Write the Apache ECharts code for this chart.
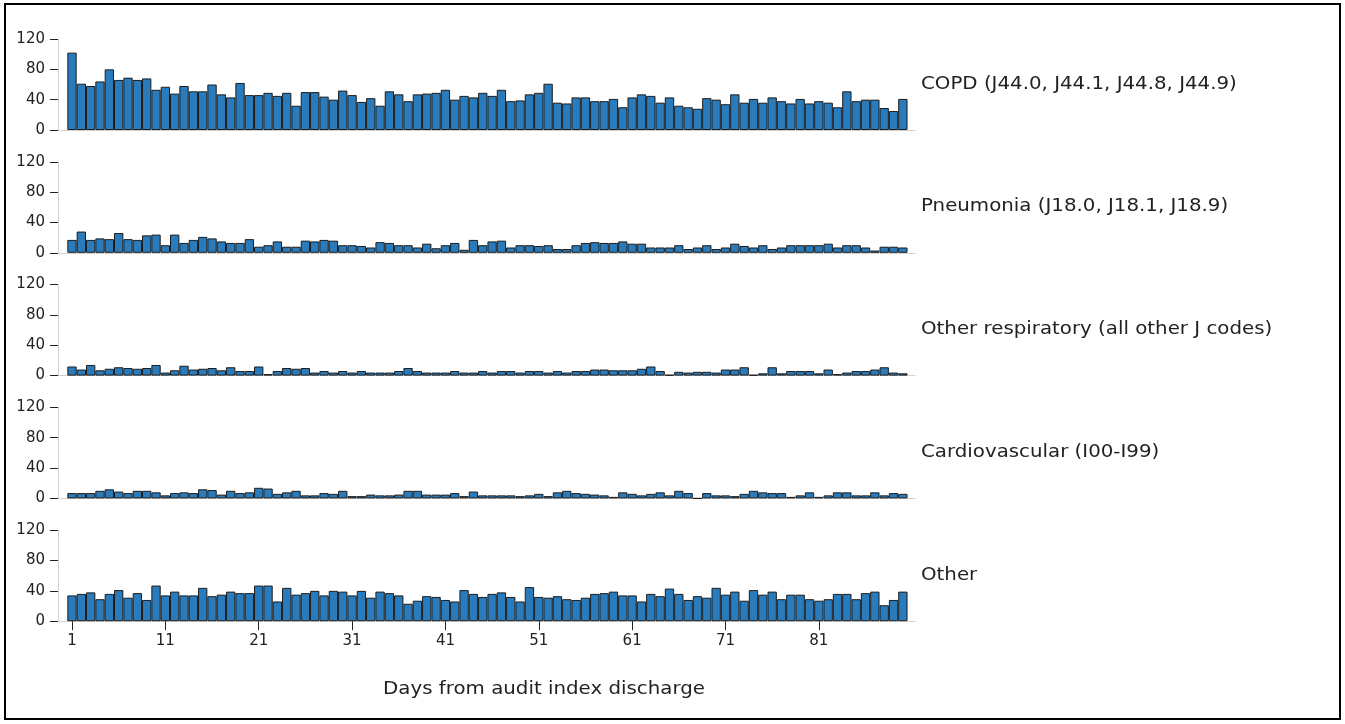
<!DOCTYPE html>
<html>
<head>
<meta charset="utf-8">
<script src="https://cdn.jsdelivr.net/npm/echarts@6/dist/echarts.min.js"></script>
<style>
  html, body { margin: 0; padding: 0; background: #fff; }
  #chart { position: absolute; left: 0; top: 0; width: 1345px; height: 724px; }
  #frame { position: absolute; left: 4px; top: 3px; width: 1333px; height: 713px; border: 2px solid #000; pointer-events: none; }
</style>
</head>
<body>
<div id="chart"></div>
<div id="frame"></div>
<script>
// Days since discharge (1..90) and the tick days labelled on the bottom axis
const days = Array.from({ length: 90 }, (_, i) => i + 1);
const tickDays = [1, 11, 21, 31, 41, 51, 61, 71, 81];
const yTicks = [0, 40, 80, 120];

// Readmissions per day, by cause
const copd = [
  102, 61, 58, 64, 80, 66, 69, 66, 68, 53,
  57, 48, 58, 51, 51, 60, 47, 43, 62, 46,
  46, 49, 45, 49, 32, 50, 50, 44, 40, 52,
  46, 37, 42, 32, 51, 47, 38, 47, 48, 49,
  53, 40, 45, 43, 49, 45, 53, 38, 39, 47,
  49, 61, 36, 35, 43, 43, 38, 38, 41, 30,
  43, 47, 45, 36, 43, 32, 30, 28, 42, 40,
  34, 47, 36, 41, 36, 43, 38, 35, 41, 35,
  38, 36, 30, 51, 38, 40, 40, 29, 25, 41
];
const pneumonia = [
  17, 28, 17, 19, 18, 26, 18, 17, 23, 24,
  10, 24, 13, 17, 21, 19, 15, 13, 13, 18,
  8, 10, 15, 8, 8, 16, 15, 17, 16, 10,
  10, 9, 7, 14, 13, 10, 10, 7, 12, 6,
  10, 13, 4, 17, 10, 15, 16, 7, 10, 10,
  9, 10, 5, 5, 10, 13, 14, 13, 13, 15,
  12, 12, 7, 7, 7, 10, 5, 7, 10, 5,
  7, 12, 9, 7, 10, 5, 7, 10, 10, 10,
  10, 12, 7, 10, 10, 7, 3, 8, 8, 7
];
const otherRespiratory = [
  12, 8, 14, 7, 9, 11, 10, 9, 10, 14,
  4, 7, 13, 8, 9, 10, 7, 11, 6, 6,
  12, 2, 6, 10, 9, 10, 4, 6, 4, 6,
  4, 6, 4, 4, 4, 6, 10, 6, 4, 4,
  4, 6, 4, 4, 6, 4, 6, 6, 4, 6,
  6, 4, 6, 4, 6, 6, 8, 8, 7, 7,
  7, 9, 12, 6, 1, 5, 4, 5, 5, 4,
  8, 8, 11, 1, 3, 11, 3, 6, 6, 6,
  3, 8, 2, 4, 6, 6, 8, 11, 4, 3
];
const cardiovascular = [
  7, 7, 7, 10, 12, 9, 7, 10, 10, 8,
  4, 7, 8, 7, 12, 11, 5, 10, 7, 8,
  14, 13, 6, 8, 10, 4, 4, 7, 6, 10,
  3, 3, 5, 4, 4, 5, 10, 10, 5, 5,
  5, 7, 3, 9, 4, 4, 4, 4, 3, 4,
  6, 3, 8, 10, 7, 6, 5, 4, 2, 8,
  6, 4, 6, 8, 4, 10, 7, 0, 7, 4,
  4, 3, 6, 10, 8, 7, 7, 2, 4, 8,
  2, 4, 8, 8, 4, 4, 8, 4, 7, 6
];
const other = [
  34, 36, 38, 29, 36, 41, 31, 37, 28, 47,
  34, 39, 34, 34, 44, 33, 35, 39, 37, 37,
  47, 47, 26, 44, 35, 37, 40, 34, 40, 39,
  34, 40, 31, 39, 37, 34, 23, 27, 33, 32,
  28, 26, 41, 36, 32, 36, 38, 32, 26, 45,
  32, 31, 33, 29, 28, 31, 36, 37, 39, 34,
  34, 26, 36, 33, 43, 36, 28, 33, 31, 44,
  35, 39, 27, 41, 35, 39, 29, 35, 35, 29,
  27, 29, 36, 36, 29, 37, 39, 21, 28, 39
];

const panelNames = [
  'COPD (J44.0, J44.1, J44.8, J44.9)',
  'Pneumonia (J18.0, J18.1, J18.9)',
  'Other respiratory (all other J codes)',
  'Cardiovascular (I00-I99)',
  'Other'
];
const panelValues = [copd, pneumonia, otherRespiratory, cardiovascular, other];
const xAxisTitle = 'Days from audit index discharge';

// Panel layout
const FONT = '"DejaVu Sans", Verdana, sans-serif';
const GRID_LEFT = 58;
const GRID_WIDTH = 857;
const TOP0 = 39;
const STEP = 122.8;
const H = 91;
const TEXT_STRETCH = 1.1;   // the captions are set slightly wide
const TICK_FONT = 15;
const last = panelValues.length - 1;

const chart = echarts.init(document.getElementById('chart'), null, { renderer: 'canvas' });

const option = {
  animation: false,
  backgroundColor: '#fff',
  grid: panelValues.map((_, i) => ({
    left: GRID_LEFT, width: GRID_WIDTH, top: TOP0 + i * STEP, height: H
  })),
  xAxis: panelValues.map((_, i) => ({
    gridIndex: i,
    type: 'value',
    min: -0.5,
    max: 91.3,
    splitLine: { show: false },
    axisLine: { show: true, onZero: false, lineStyle: { color: '#d0d0d0', width: 1 } },
    axisTick: i === last
      ? { show: true, customValues: tickDays, length: 9, lineStyle: { color: '#222', width: 1 } }
      : { show: false },
    axisLabel: i === last
      ? { show: true, customValues: tickDays, margin: 12, fontSize: TICK_FONT, color: '#222', fontFamily: FONT }
      : { show: false }
  })),
  yAxis: panelValues.map((_, i) => ({
    gridIndex: i,
    type: 'value',
    min: yTicks[0],
    max: yTicks[yTicks.length - 1],
    interval: yTicks[1] - yTicks[0],
    splitLine: { show: false },
    axisLine: { show: true, onZero: false, lineStyle: { color: '#d0d0d0', width: 1 } },
    axisTick: { show: true, length: 8, lineStyle: { color: '#222', width: 1 } },
    axisLabel: { margin: 13, fontSize: TICK_FONT, color: '#222', fontFamily: FONT }
  })),
  series: panelValues.map((vals, i) => ({
    type: 'bar',
    name: panelNames[i],
    xAxisIndex: i,
    yAxisIndex: i,
    barWidth: '100%',
    silent: true,
    data: days.map((d, k) => [d, vals[k]]),
    itemStyle: { color: '#2a7bbb', borderColor: '#1c1c1c', borderWidth: 1 }
  })),
  graphic: panelNames.map((name, i) => ({
    type: 'text',
    x: GRID_LEFT + GRID_WIDTH + 6,
    y: TOP0 + i * STEP + 45,
    scaleX: TEXT_STRETCH,
    style: { text: name, font: '18px ' + FONT, fill: '#222', verticalAlign: 'middle', align: 'left' }
  })).concat([{
    type: 'text',
    x: 544,
    y: 689,
    scaleX: TEXT_STRETCH,
    style: { text: xAxisTitle, font: '18px ' + FONT, fill: '#222', verticalAlign: 'middle', align: 'center' }
  }])
};

chart.setOption(option);
</script>
</body>
</html>
